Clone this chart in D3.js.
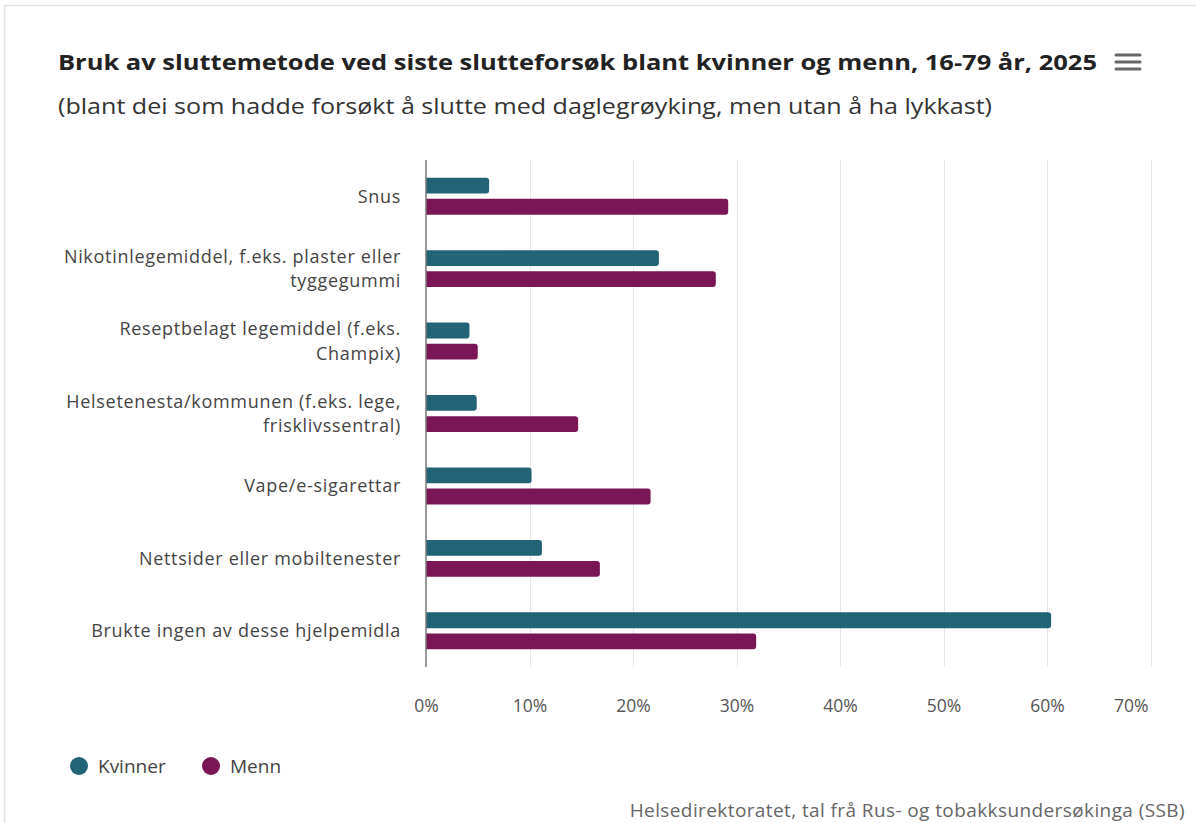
<!DOCTYPE html>
<html>
<head>
<meta charset="utf-8">
<script src="https://cdn.jsdelivr.net/npm/d3@7"></script>
<style>
  body { margin: 0; background: #fff; }
  svg { font-family: "Open Sans", "Segoe UI", sans-serif; }
</style>
</head>
<body>
<div id="chart"></div>
<script>
// data
let categories = [
  "Snus",
  "Nikotinlegemiddel, f.eks. plaster eller tyggegummi",
  "Reseptbelagt legemiddel (f.eks. Champix)",
  "Helsetenesta/kommunen (f.eks. lege, frisklivssentral)",
  "Vape/e-sigarettar",
  "Nettsider eller mobiltenester",
  "Brukte ingen av desse hjelpemidla"
];
let seriesNames = ["Kvinner", "Menn"];
let kvinner = [6.1, 22.5, 4.2, 4.9, 10.2, 11.2, 60.4];
let menn = [29.2, 28.0, 5.0, 14.7, 21.7, 16.8, 31.9];
let xTicks = [0, 10, 20, 30, 40, 50, 60, 70];
let colors = ["#226376", "#7a1656"];

let svgWidth = 1196;
let svgHeight = 823;

let margin = { top: 160, right: 45, bottom: 156, left: 426 };

let svg = d3.select("#chart")
  .append("svg")
  .attr("width", svgWidth)
  .attr("height", svgHeight);

// frame
svg.append("rect")
  .attr("x", 4.5).attr("y", 5.5)
  .attr("width", svgWidth + 10).attr("height", svgHeight + 10)
  .attr("fill", "none")
  .attr("stroke", "#e3e3e3")
  .attr("stroke-width", 1.5);

// title
svg.append("text")
  .attr("x", 58).attr("y", 70)
  .attr("font-size", "22px")
  .attr("font-weight", "bold")
  .attr("fill", "#222")
  .attr("class", "title")
  .text("Bruk av sluttemetode ved siste slutteforsøk blant kvinner og menn, 16-79 år, 2025");

svg.append("text")
  .attr("x", 58).attr("y", 114)
  .attr("font-size", "22px")
  .attr("fill", "#333")
  .attr("class", "subtitle")
  .text("(blant dei som hadde forsøkt å slutte med daglegrøyking, men utan å ha lykkast)");

// stretch title lines to the reference widths
function fitWidth(sel, w) {
  sel.attr("textLength", w).attr("lengthAdjust", "spacingAndGlyphs");
}
fitWidth(svg.select(".title"), 1039);
fitWidth(svg.select(".subtitle"), 934);

// menu icon
[55, 62, 69].forEach(function(yy) {
  svg.append("line")
    .attr("x1", 1116).attr("x2", 1140)
    .attr("y1", yy).attr("y2", yy)
    .attr("stroke", "#666")
    .attr("stroke-width", 3)
    .attr("stroke-linecap", "round");
});

let xScale = d3.scaleLinear()
  .domain([0, 70])
  .range([margin.left, 1150.5]);

let yScale = d3.scaleBand()
  .domain(categories)
  .range([margin.top, svgHeight - margin.bottom])
  .paddingInner(0.49)
  .paddingOuter(0.245);

let ySub = d3.scaleBand()
  .domain(seriesNames)
  .range([0, yScale.bandwidth()])
  .paddingInner(0.25);

let plotTop = margin.top;
let plotBottom = svgHeight - margin.bottom;

// grid
svg.append("g")
  .selectAll("line")
  .data(xTicks.slice(1))
  .enter()
  .append("line")
  .attr("x1", d => Math.round(xScale(d)) + 0.5)
  .attr("x2", d => Math.round(xScale(d)) + 0.5)
  .attr("y1", plotTop)
  .attr("y2", plotBottom)
  .attr("stroke", "#e6e6e6")
  .attr("stroke-width", 1);

// x axis labels
let xAxis = d3.axisBottom(xScale)
  .tickValues(xTicks)
  .tickFormat(d => d + "%")
  .tickSize(0)
  .tickPadding(0);

let xg = svg.append("g")
  .attr("transform", `translate(0, ${plotBottom + 33})`)
  .call(xAxis);
xg.select(".domain").remove();
xg.selectAll("text")
  .attr("font-size", "17.5px")
  .attr("font-family", "'Open Sans', sans-serif")
  .attr("fill", "#555");

// last label is pulled inside the plot edge
xg.selectAll(".tick text").each(function(d) {
  let w = this.getComputedTextLength();
  let right = xScale(d) + w / 2;
  if (right > 1148) d3.select(this).attr("x", 1148 - right);
});

// bars
let data = categories.map(function(c, i) {
  return { cat: c, values: [kvinner[i], menn[i]] };
});

let groups = svg.append("g")
  .selectAll("g")
  .data(data)
  .enter()
  .append("g")
  .attr("transform", d => `translate(0, ${yScale(d.cat)})`);

function barPath(x0, x1, y, h, r) {
  return `M${x0},${y}H${x1 - r}Q${x1},${y} ${x1},${y + r}V${y + h - r}Q${x1},${y + h} ${x1 - r},${y + h}H${x0}Z`;
}

groups.selectAll("path")
  .data(d => d.values.map((v, j) => ({ name: seriesNames[j], value: v, idx: j })))
  .enter()
  .append("path")
  .attr("d", d => barPath(xScale(0), xScale(d.value), ySub(d.name), ySub.bandwidth(), 3))
  .attr("fill", d => colors[d.idx]);

// y axis line
svg.append("line")
  .attr("x1", xScale(0)).attr("x2", xScale(0))
  .attr("y1", plotTop).attr("y2", plotBottom)
  .attr("stroke", "#777")
  .attr("stroke-width", 1.5);

// category labels, wrapped
let labelG = svg.append("g");
categories.forEach(function(c) {
  let t = labelG.append("text")
    .attr("x", 401)
    .attr("text-anchor", "end")
    .attr("font-size", "18px")
    .attr("letter-spacing", "0.7px")
    .attr("fill", "#444");
  let words = c.split(" ");
  let lines = [];
  let line = [];
  let probe = t.append("tspan");
  words.forEach(function(w) {
    line.push(w);
    probe.text(line.join(" "));
    if (probe.node().getComputedTextLength() > 348 && line.length > 1) {
      line.pop();
      lines.push(line.join(" "));
      line = [w];
    }
  });
  lines.push(line.join(" "));
  probe.remove();
  let cy = yScale(c) + yScale.bandwidth() / 2;
  let lh = 24.5;
  let startY = cy - (lines.length - 1) * lh / 2 + 6.5;
  lines.forEach(function(l, k) {
    t.append("tspan")
      .attr("x", 401)
      .attr("y", startY + k * lh)
      .text(l);
  });
});

// legend
let legend = svg.append("g");
let legendX = [79, 211];
seriesNames.forEach(function(s, i) {
  legend.append("circle")
    .attr("cx", legendX[i]).attr("cy", 766)
    .attr("r", 9)
    .attr("fill", colors[i]);
  legend.append("text")
    .attr("x", legendX[i] + 19).attr("y", 773)
    .attr("font-size", "19px")
    .attr("fill", "#444")
    .text(s);
});

// credits
svg.append("text")
  .attr("x", 1185).attr("y", 817)
  .attr("text-anchor", "end")
  .attr("font-size", "19px")
  .attr("letter-spacing", "0.4px")
  .attr("fill", "#666")
  .text("Helsedirektoratet, tal frå Rus- og tobakksundersøkinga (SSB)");
</script>
</body>
</html>
